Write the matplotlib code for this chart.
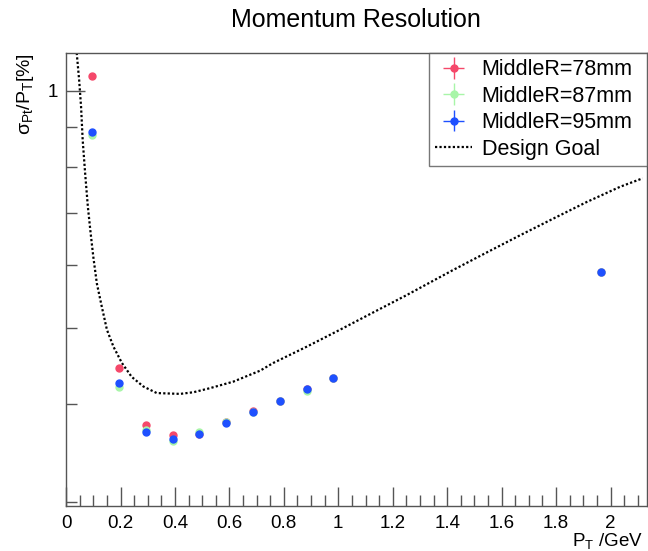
import matplotlib

matplotlib.use("Agg")
import matplotlib.pyplot as plt
from matplotlib.ticker import FixedLocator, NullFormatter, FixedFormatter

plt.rcParams["font.family"] = ["Liberation Sans", "DejaVu Sans"]
plt.rcParams["mathtext.fontset"] = "custom"
plt.rcParams["mathtext.rm"] = "Liberation Sans"
plt.rcParams["mathtext.it"] = "Liberation Sans:italic"

# pT points (GeV)
pt = [0.097, 0.195, 0.293, 0.391, 0.489, 0.588, 0.687, 0.785, 0.884, 0.981, 1.966]

# relative resolution (%)
res_78 = [1.045, 0.444, 0.376, 0.365, 0.366, 0.380, 0.392, 0.403, 0.418, 0.432, 0.589]
res_87 = [0.878, 0.421, 0.371, 0.359, 0.369, 0.379, 0.391, 0.403, 0.416, 0.431, 0.589]
res_95 = [0.886, 0.425, 0.369, 0.361, 0.366, 0.378, 0.391, 0.403, 0.418, 0.432, 0.589]

# design goal curve
goal_pt = [0.039, 0.048, 0.055, 0.061, 0.070, 0.080, 0.090, 0.100, 0.113, 0.131,
           0.150, 0.174, 0.205, 0.241, 0.284, 0.333, 0.419, 0.468, 0.529, 0.614,
           0.713, 0.761, 0.884, 1.006, 1.129, 1.251, 1.422, 1.545, 1.667,
           1.790, 1.912, 2.035, 2.118]
goal_res = [1.117, 1.031, 0.954, 0.865, 0.785, 0.712, 0.660, 0.615, 0.569, 0.532,
            0.497, 0.473, 0.451, 0.433, 0.421, 0.413, 0.412, 0.414, 0.419, 0.427,
            0.441, 0.451, 0.473, 0.497, 0.523, 0.550, 0.592, 0.623, 0.655,
            0.688, 0.722, 0.755, 0.774]

labels = ["MiddleR=78mm", "MiddleR=87mm", "MiddleR=95mm"]
colors = ["#f5486a", "#a8f5a8", "#1e50ff"]

fig = plt.figure(figsize=(6.48, 5.51), dpi=100)
ax = fig.add_axes([0.102, 0.081, 0.896, 0.823])

zeros = [0.0] * len(pt)
handles = []
for ys, lab, col in zip([res_78, res_87, res_95], labels, colors):
    h = ax.errorbar(pt, ys, xerr=zeros, yerr=zeros, fmt="o", ms=5, color=col,
                    ecolor=col, elinewidth=1, capsize=0, label=lab, mec=col)
    handles.append(h)

(goal_line,) = ax.plot(goal_pt, goal_res, color="black", ls=(0, (1, 1)), lw=1.6,
                       label="Design Goal")
handles.append(goal_line)

ax.set_yscale("log")
ax.set_xlim(0, 2.133)
ax.set_ylim(0.2965, 1.117)

ax.yaxis.set_major_locator(FixedLocator([1.0]))
ax.yaxis.set_major_formatter(FixedFormatter(["1"]))
ax.yaxis.set_minor_locator(FixedLocator([0.3, 0.4, 0.5, 0.6, 0.7, 0.8, 0.9]))
ax.yaxis.set_minor_formatter(NullFormatter())

ax.xaxis.set_major_locator(FixedLocator([0, 0.2, 0.4, 0.6, 0.8, 1.0, 1.2, 1.4, 1.6, 1.8, 2.0]))
ax.xaxis.set_major_formatter(FixedFormatter(["0", "0.2", "0.4", "0.6", "0.8", "1",
                                             "1.2", "1.4", "1.6", "1.8", "2"]))
ax.xaxis.set_minor_locator(FixedLocator([i * 0.05 for i in range(43)]))

ax.tick_params(which="both", direction="in", top=False, right=False,
               labelsize=13.5, color="#555555", pad=6)
ax.tick_params(which="major", length=14, width=1)
ax.tick_params(which="minor", length=8, width=1)
for sp in ax.spines.values():
    sp.set_color("#555555")
    sp.set_linewidth(1)

ax.set_title("Momentum Resolution", fontsize=18, pad=19)
ax.set_xlabel(r"P$_{\mathrm{T}}$ /GeV", fontsize=13.5, ha="right")
ax.xaxis.set_label_coords(0.994, -0.055)
ax.set_ylabel(r"σ$_{\mathrm{Pt}}$/P$_{\mathrm{T}}$[%]", fontsize=14, loc="top", labelpad=8)

leg = ax.legend(handles=handles, loc="upper left", bbox_to_anchor=(0.625, 0.75, 0.375, 0.25),
                mode="expand", fontsize=15.5, frameon=True, fancybox=False,
                edgecolor="#555555", borderpad=0.3, labelspacing=0.25,
                handlelength=1.7, handletextpad=0.45, borderaxespad=0)
leg.get_frame().set_linewidth(1)

fig.savefig("out.png", dpi=100)
